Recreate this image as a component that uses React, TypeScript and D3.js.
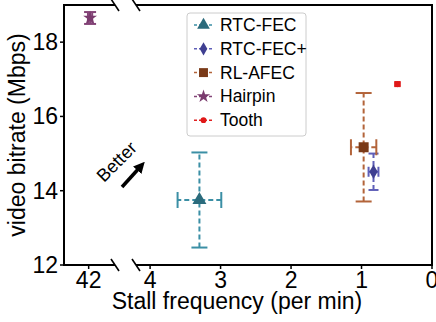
import React from "react";
import * as d3 from "d3";

const series = ["RTC-FEC", "RTC-FEC+", "RL-AFEC", "Hairpin", "Tooth"];
const stallFreq = [3.3, 0.83, 0.97, 41.98, 0.49];
const stallErr = [0.31, 0.07, 0.18, 0.03, 0.03];
const bitrate = [13.75, 14.51, 15.17, 18.65, 16.87];
const bitrateErr = [1.28, 0.49, 1.46, 0.16, 0.05];
const yTicks = [12, 14, 16, 18];
const xTicksLeft = [42];
const xTicksRight = [4, 3, 2, 1, 0];

const markerColors = ["#2b6b7c", "#3f3f91", "#7a3a18", "#7a3b6e", "#e01818"];
const barColors = ["#3b8fa5", "#5f5fb8", "#b3643a", "#844478", "#e02020"];
const symbols = [d3.symbolTriangle, d3.symbolDiamond, d3.symbolSquare, d3.symbolStar, d3.symbolCircle];
const symSizes = [85, 60, 100, 60, 30];
const legSizes = [70, 50, 80, 55, 26];
const caps = [8, 5, 8, 6, 3];

const FONT = "Liberation Sans, Arial, sans-serif";

export default function App() {
  const W = 436, H = 322;
  const top = 5, bottom = 265;
  const lx0 = 64, lx1 = 115, rx0 = 136, rx1 = 432;
  const y = d3.scaleLinear().domain([12, 19]).range([bottom, top]);
  const xr = d3.scaleLinear().domain([4.2, 0]).range([rx0, rx1]);
  const unit = (rx1 - rx0) / 4.2;
  const lw = (lx1 - lx0) / unit;
  const xl = d3.scaleLinear().domain([42.35, 42.35 - lw]).range([lx0, lx1]);

  const pts = series.map((s, i) => ({
    s, i,
    x: stallFreq[i] > 10 ? xl(stallFreq[i]) : xr(stallFreq[i]),
    xa: stallFreq[i] > 10 ? xl(stallFreq[i] - stallErr[i]) : xr(stallFreq[i] - stallErr[i]),
    xb: stallFreq[i] > 10 ? xl(stallFreq[i] + stallErr[i]) : xr(stallFreq[i] + stallErr[i]),
    y: y(bitrate[i]),
    ya: y(bitrate[i] - bitrateErr[i]),
    yb: y(bitrate[i] + bitrateErr[i]),
  }));

  const legX = 187, legY = 13, legW = 119, legH = 123;
  const legRow = (k: number) => legY + 12 + k * 23.8;

  return (
    <svg width={W} height={H} style={{ position: "absolute", left: 0, top: 0 }} fontFamily={FONT}>
      <rect width={W} height={H} fill="#fff" />
      {/* error bars and markers */}
      {pts.map((p) => (
        <g key={p.s}>
          <line x1={p.xa} x2={p.xb} y1={p.y} y2={p.y} stroke={barColors[p.i]} strokeWidth={2} strokeDasharray="5,3" />
          <line x1={p.x} x2={p.x} y1={p.ya} y2={p.yb} stroke={barColors[p.i]} strokeWidth={2} strokeDasharray="5,3" />
          <line x1={p.xa} x2={p.xa} y1={p.y - caps[p.i]} y2={p.y + caps[p.i]} stroke={barColors[p.i]} strokeWidth={2} />
          <line x1={p.xb} x2={p.xb} y1={p.y - caps[p.i]} y2={p.y + caps[p.i]} stroke={barColors[p.i]} strokeWidth={2} />
          <line x1={p.x - caps[p.i]} x2={p.x + caps[p.i]} y1={p.ya} y2={p.ya} stroke={barColors[p.i]} strokeWidth={2} />
          <line x1={p.x - caps[p.i]} x2={p.x + caps[p.i]} y1={p.yb} y2={p.yb} stroke={barColors[p.i]} strokeWidth={2} />
          <path d={d3.symbol(symbols[p.i], symSizes[p.i])() || ""} transform={`translate(${p.x},${p.y})`} fill={markerColors[p.i]} />
        </g>
      ))}
      {/* spines */}
      <g stroke="#000" strokeWidth={2} fill="none">
        <line x1={lx0} x2={lx0} y1={top} y2={bottom + 1} />
        <line x1={lx0 - 1} x2={lx1} y1={top} y2={top} />
        <line x1={lx0 - 1} x2={lx1} y1={bottom} y2={bottom} />
        <line x1={rx0} x2={rx1 + 1} y1={top} y2={top} />
        <line x1={rx0} x2={rx1 + 1} y1={bottom} y2={bottom} />
        <line x1={rx1} x2={rx1} y1={top} y2={bottom} />
      </g>
      {/* break marks */}
      <g stroke="#000" strokeWidth={1.6}>
        {[lx1, rx0].map((bx) =>
          [top, bottom].map((by) => (
            <line key={`${bx}-${by}`} x1={bx - 4} x2={bx + 4} y1={by - 6} y2={by + 6} />
          ))
        )}
      </g>
      {/* y ticks */}
      {yTicks.map((t) => (
        <g key={t}>
          <line x1={lx0 - 4} x2={lx0} y1={y(t)} y2={y(t)} stroke="#000" strokeWidth={1.5} />
          <text x={lx0 - 6} y={y(t) + 8} textAnchor="end" fontSize={23}>{t}</text>
        </g>
      ))}
      {/* x ticks */}
      {xTicksLeft.map((t) => (
        <g key={`l${t}`}>
          <line x1={xl(t)} x2={xl(t)} y1={bottom} y2={bottom + 4} stroke="#000" strokeWidth={1.5} />
          <text x={xl(t)} y={288} textAnchor="middle" fontSize={23}>{t}</text>
        </g>
      ))}
      {xTicksRight.map((t) => (
        <g key={`r${t}`}>
          <line x1={xr(t)} x2={xr(t)} y1={bottom} y2={bottom + 4} stroke="#000" strokeWidth={1.5} />
          <text x={xr(t)} y={288} textAnchor="middle" fontSize={23}>{t}</text>
        </g>
      ))}
      {/* axis labels */}
      <text x={237} y={309} textAnchor="middle" fontSize={23}>Stall frequency (per min)</text>
      <text transform={`translate(25,${(top + bottom) / 2}) rotate(-90)`} textAnchor="middle" fontSize={23}>video bitrate (Mbps)</text>
      {/* Better arrow */}
      <text transform="translate(121,166) rotate(-45)" textAnchor="middle" fontSize={18}>Better</text>
      <defs>
        <marker id="ah" viewBox="0 0 10 10" refX="5" refY="5" markerWidth="3.2" markerHeight="3.2" orient="auto">
          <path d="M0,0 L10,5 L0,10 z" fill="#000" />
        </marker>
      </defs>
      <line x1={122} y1={187} x2={141} y2={166} stroke="#000" strokeWidth={3.5} markerEnd="url(#ah)" />
      {/* legend */}
      <rect x={legX} y={legY} width={legW} height={legH} rx={3} fill="#fff" fillOpacity={0.85} stroke="#ccc" strokeWidth={1} />
      {series.map((s, i) => (
        <g key={`leg${s}`}>
          <line x1={194} x2={213} y1={legRow(i)} y2={legRow(i)} stroke={barColors[i]} strokeWidth={1.5} strokeDasharray="3,2" />
          <path d={d3.symbol(symbols[i], legSizes[i])() || ""} transform={`translate(203.5,${legRow(i)})`} fill={markerColors[i]} />
          <text x={220} y={legRow(i) + 6} fontSize={17.5}>{s}</text>
        </g>
      ))}
    </svg>
  );
}
